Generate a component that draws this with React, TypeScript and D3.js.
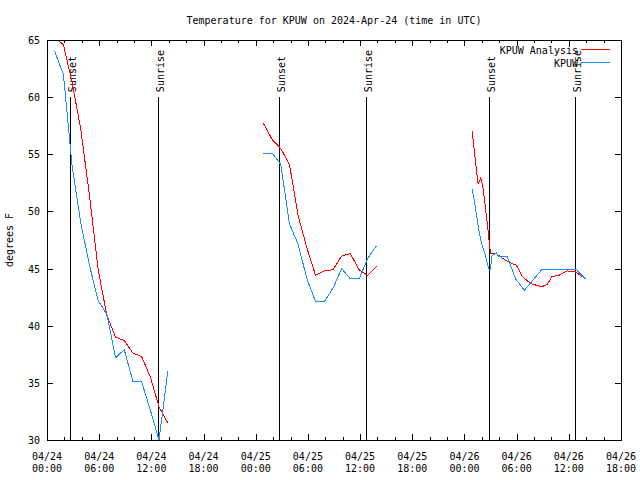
import React from "react";
import * as d3 from "d3";

// ---------- data ----------
const TITLE = "Temperature for KPUW on 2024-Apr-24 (time in UTC)";
const Y_LABEL = "degrees F";
const SERIES_NAMES = ["KPUW Analysis", "KPUW"];
const SERIES_COLORS = ["#ff0000", "#1a8cff"];

const DOMAIN_START = "2024-04-24 00:00";
const DOMAIN_END = "2024-04-26 18:00";

const hourlyTimes = ["00:53", "01:53", "02:53", "03:53", "04:53", "05:53", "06:53", "07:53", "08:53", "09:53", "10:53", "11:53", "12:53", "13:53"];

// Day 1 (04/24)
const day1 = "2024-04-24";
const day1Analysis = [65.2, 64.6, 61.3, 57.2, 51.4, 44.9, 40.9, 39.0, 38.7, 37.6, 37.3, 35.5, 32.9, 31.5];
const day1Obs = [64.0, 62.0, 54.0, 49.0, 45.3, 42.2, 41.0, 37.2, 37.9, 35.1, 35.1, 32.6, 30.0, 36.0];

// Day 2 (04/25)
const day2 = "2024-04-25";
const day2Analysis = [57.7, 56.3, 55.5, 54.1, 49.6, 46.8, 44.4, 44.8, 44.9, 46.1, 46.3, 44.9, 44.4, 45.2];
const day2Obs = [55.1, 55.1, 54.1, 48.9, 47.1, 44.1, 42.1, 42.1, 43.3, 45.0, 44.1, 44.1, 45.9, 47.0];

// Day 3 (04/26)
const day3 = "2024-04-26";
const day3AnalysisTimes = ["00:53", "01:34", "01:52", "02:07", "02:36", "03:00", "03:40", "04:35", "05:17", "05:58", "06:40", "07:35", "08:51", "09:30", "10:04", "10:50", "11:50", "12:46", "13:55"];
const day3Analysis = [57.0, 52.4, 52.9, 52.2, 49.1, 46.3, 46.3, 45.8, 45.5, 45.3, 44.3, 43.7, 43.4, 43.6, 44.3, 44.4, 44.8, 44.7, 44.1];
const day3ObsTimes = ["00:53", "01:15", "01:38", "02:00", "02:24", "02:47", "02:58", "03:10", "03:40", "03:53", "04:53", "05:53", "06:53", "08:53", "12:53", "13:53"];
const day3Obs = [52.0, 50.4, 48.4, 47.1, 46.2, 45.0, 44.9, 46.1, 46.4, 46.1, 46.1, 44.1, 43.1, 44.9, 44.9, 44.1];

const sunsets = ["2024-04-24 02:39", "2024-04-25 02:42", "2024-04-26 02:46"];
const sunrises = ["2024-04-24 12:48", "2024-04-25 12:44", "2024-04-26 12:46"];
const MARKER_TOP = 60;

const Y_MIN = 30;
const Y_MAX = 65;

// ---------- layout ----------
const W = 640;
const H = 480;
const L = 47;
const R = 621;
const T = 40;
const B = 440;
const FONT = "'DejaVu Sans Mono', monospace";

const parse = d3.utcParse("%Y-%m-%d %H:%M");

type Pt = { t: Date; v: number };
function build(day: string, times: string[], vals: number[]): Pt[] {
  return times.map((tm, i) => ({ t: parse(`${day} ${tm}`) as Date, v: vals[i] }));
}

export default function App() {
  const x = d3.scaleUtc().domain([parse(DOMAIN_START) as Date, parse(DOMAIN_END) as Date]).range([L, R]);
  const y = d3.scaleLinear().domain([Y_MIN, Y_MAX]).range([B, T]);

  const analysisSegs = [
    build(day1, hourlyTimes, day1Analysis),
    build(day2, hourlyTimes, day2Analysis),
    build(day3, day3AnalysisTimes, day3Analysis),
  ];
  const obsSegs = [
    build(day1, hourlyTimes, day1Obs),
    build(day2, hourlyTimes, day2Obs),
    build(day3, day3ObsTimes, day3Obs),
  ];

  const line = d3
    .line<Pt>()
    .x((d) => x(d.t))
    .y((d) => y(d.v));

  const major = x.ticks(d3.utcHour.every(6) as any);
  const minor = x.ticks(d3.utcHour.every(2) as any).filter((d) => d.getUTCHours() % 6 !== 0);
  const yTicks = y.ticks(7);
  const fmtDate = d3.utcFormat("%m/%d");
  const fmtTime = d3.utcFormat("%H:%M");

  const markers = [
    ...sunsets.map((s) => ({ t: parse(s) as Date, label: "Sunset" })),
    ...sunrises.map((s) => ({ t: parse(s) as Date, label: "Sunrise" })),
  ];

  return (
    <svg
      width={W}
      height={H}
      style={{ position: "absolute", left: 0, top: 0, background: "#fff" }}
      fontFamily={FONT}
      fontSize={10}
    >
      <rect x={0} y={0} width={W} height={H} fill="#fff" />
      <defs>
        <clipPath id="plotclip">
          <rect x={L} y={T} width={R - L} height={B - T} />
        </clipPath>
      </defs>

      {/* title */}
      <text x={(L + R) / 2} y={24} textAnchor="middle" fill="#000">
        {TITLE}
      </text>

      {/* y label */}
      <text transform={`translate(13,${(T + B) / 2}) rotate(-90)`} textAnchor="middle" fill="#000">
        {Y_LABEL}
      </text>

      {/* y ticks */}
      {yTicks.map((v) => (
        <g key={`y${v}`}>
          <line x1={L} x2={L + 6} y1={Math.round(y(v)) + 0.5} y2={Math.round(y(v)) + 0.5} stroke="#000" shapeRendering="crispEdges" />
          <line x1={R - 6} x2={R} y1={Math.round(y(v)) + 0.5} y2={Math.round(y(v)) + 0.5} stroke="#000" shapeRendering="crispEdges" />
          <text x={40} y={y(v) + 4} textAnchor="end" fill="#000">
            {v}
          </text>
        </g>
      ))}

      {/* x ticks */}
      {major.map((d) => {
        const xx = Math.round(x(d)) + 0.5;
        return (
          <g key={`M${+d}`}>
            <line x1={xx} x2={xx} y1={B} y2={B - 6} stroke="#000" shapeRendering="crispEdges" />
            <line x1={xx} x2={xx} y1={T} y2={T + 6} stroke="#000" shapeRendering="crispEdges" />
            <text x={x(d)} y={460} textAnchor="middle" fill="#000">
              {fmtDate(d)}
            </text>
            <text x={x(d)} y={472} textAnchor="middle" fill="#000">
              {fmtTime(d)}
            </text>
          </g>
        );
      })}
      {minor.map((d) => {
        const xx = Math.round(x(d)) + 0.5;
        return (
          <g key={`m${+d}`}>
            <line x1={xx} x2={xx} y1={B} y2={B - 3} stroke="#000" shapeRendering="crispEdges" />
            <line x1={xx} x2={xx} y1={T} y2={T + 3} stroke="#000" shapeRendering="crispEdges" />
          </g>
        );
      })}

      {/* sunrise / sunset markers */}
      {markers.map((m, i) => {
        const xx = Math.round(x(m.t)) + 0.5;
        return (
          <g key={`mk${i}`}>
            <line x1={xx} x2={xx} y1={y(MARKER_TOP)} y2={B} stroke="#000" shapeRendering="crispEdges" />
            <text transform={`translate(${x(m.t) + 6},${y(MARKER_TOP) - 5}) rotate(-90)`} textAnchor="start" fill="#000">
              {m.label}
            </text>
          </g>
        );
      })}

      {/* data */}
      <g clipPath="url(#plotclip)" fill="none" strokeWidth={1} shapeRendering="crispEdges">
        {analysisSegs.map((s, i) => (
          <path key={`a${i}`} d={line(s) || ""} stroke={SERIES_COLORS[0]} />
        ))}
        {obsSegs.map((s, i) => (
          <path key={`o${i}`} d={line(s) || ""} stroke={SERIES_COLORS[1]} />
        ))}
      </g>

      {/* frame */}
      <rect x={L + 0.5} y={T + 0.5} width={R - L} height={B - T} fill="none" stroke="#000" shapeRendering="crispEdges" />

      {/* legend */}
      {SERIES_NAMES.map((name, i) => {
        const ly = 49.5 + i * 13;
        return (
          <g key={`lg${i}`}>
            <text x={578} y={ly + 4} textAnchor="end" fill="#000">
              {name}
            </text>
            <line x1={581} x2={610} y1={ly} y2={ly} stroke={SERIES_COLORS[i]} shapeRendering="crispEdges" />
          </g>
        );
      })}
    </svg>
  );
}
